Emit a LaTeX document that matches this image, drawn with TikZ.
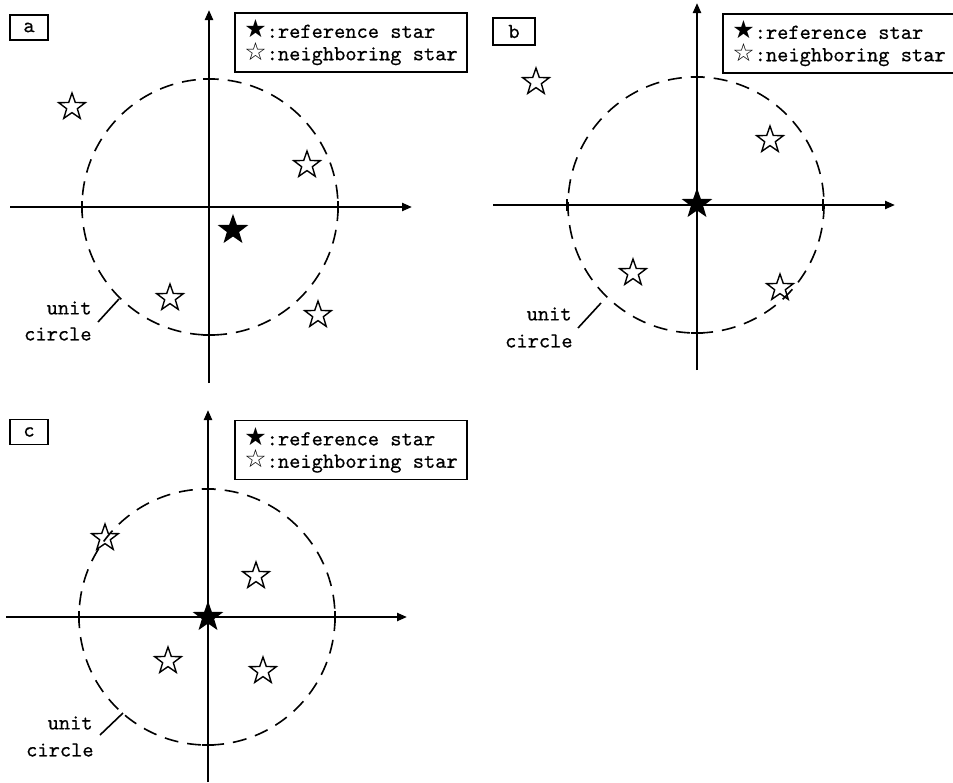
\documentclass[tikz,border=0pt]{standalone}
\usepackage{fontspec}
\newfontfamily\symfont{DejaVu Sans}
\newfontfamily\mymono[FakeBold=0.5]{lmmono10-regular.otf}
\usetikzlibrary{shapes.geometric,arrows.meta}
\tikzset{
 axis/.style={line width=1.1pt,-{Triangle[length=5pt,width=4pt]}},
 ucirc/.style={line width=0.8pt,dash pattern=on 7pt off 4.5pt},
 tickmark/.style={line width=0.8pt},
 nstar/.style={star,star points=5,star point ratio=2.5,draw,line width=0.7pt,minimum size=14pt,inner sep=0pt},
 rstar/.style={nstar,fill=black},
 mono/.style={font=\mymono\fontsize{10.7}{11.2}\selectfont},
 lab/.style={draw,line width=0.8pt,mono,minimum width=19pt,minimum height=12.5pt,inner sep=0pt},
 legend/.style={draw,line width=0.8pt,mono,align=left,inner sep=0pt,minimum width=116pt,minimum height=29.5pt},
 txt/.style={mono,inner sep=0pt},
 leader/.style={line width=0.8pt}
}
\newcommand{\legtext}{{\symfont\fontsize{12.5}{11}\selectfont ★}:reference star\\{\symfont\fontsize{12.5}{11}\selectfont ☆}:neighboring star}
\begin{document}
\begin{tikzpicture}[x=0.5pt,y=-0.5pt]
\useasboundingbox (0,0) rectangle (953,782);
\clip (0,0) rectangle (953,782);
% ---------------- panel a
\coordinate (aC) at (210,207);
\coordinate (aW) at (10,207); \coordinate (aE) at (412,207);
\coordinate (aS) at (209,383); \coordinate (aN) at (209,10);
\draw[ucirc] (aC) circle[radius=128];
\draw[axis] (aW) -- (aE);
\draw[axis] (aS) -- (aN);
\coordinate (aT1) at (82,201); \coordinate (aT2) at (82,213);
\coordinate (aT3) at (338,201); \coordinate (aT4) at (338,213);
\coordinate (aT5) at (203,79); \coordinate (aT6) at (215,79);
\coordinate (aT7) at (203,335); \coordinate (aT8) at (215,335);
\draw[tickmark] (aT1) -- (aT2) (aT3) -- (aT4) (aT5) -- (aT6) (aT7) -- (aT8);
\node[lab] (alab) at (29,27.5) {a};
\node[legend] (aleg) at (351,42.5) {\legtext};
\node[nstar] (as1) at (72,107) {};
\node[nstar] (as2) at (307,165) {};
\node[rstar] (aref) at (233,230) {};
\node[nstar] (as3) at (170,298) {};
\node[nstar] (as4) at (318,315) {};
\node[txt,anchor=east] (aunit) at (92,308) {unit};
\node[txt,anchor=east] (acirc) at (92,334) {circle};
\coordinate (aL1) at (98,322); \coordinate (aL2) at (119,299);
\draw[leader] (aL1) -- (aL2);
% ---------------- panel b
\coordinate (bC) at (696,205);
\coordinate (bW) at (493,205); \coordinate (bE) at (895,205);
\coordinate (bS) at (697,370); \coordinate (bN) at (697,3);
\draw[ucirc] (bC) circle[radius=128];
\draw[axis] (bW) -- (bE);
\draw[axis] (bS) -- (bN);
\coordinate (bT1) at (567,199); \coordinate (bT2) at (567,211);
\coordinate (bT3) at (823,199); \coordinate (bT4) at (823,211);
\coordinate (bT5) at (691,77); \coordinate (bT6) at (703,77);
\coordinate (bT7) at (691,333); \coordinate (bT8) at (703,333);
\draw[tickmark] (bT1) -- (bT2) (bT3) -- (bT4) (bT5) -- (bT6) (bT7) -- (bT8);
\node[lab,minimum width=21pt,minimum height=13.5pt] (blab) at (514,31.5) {b};
\node[legend] (bleg) at (839,43.5) {\legtext};
\node[nstar] (bs1) at (536,82) {};
\node[nstar] (bs2) at (770,140) {};
\node[nstar] (bs3) at (633,273) {};
\node[nstar] (bs4) at (780,288) {};
\node[rstar] (bref) at (697,204) {};
\node[txt,anchor=east] (bunit) at (572,314) {unit};
\node[txt,anchor=east] (bcirc) at (573,341) {circle};
\coordinate (bL1) at (578,328); \coordinate (bL2) at (601,303);
\draw[leader] (bL1) -- (bL2);
% ---------------- panel c
\coordinate (cC) at (207,617);
\coordinate (cW) at (6,617); \coordinate (cE) at (407,617);
\coordinate (cS) at (208,782); \coordinate (cN) at (208,410);
\draw[ucirc] (cC) circle[radius=128];
\draw[axis] (cW) -- (cE);
\draw[axis] (cS) -- (cN);
\coordinate (cT1) at (79,611); \coordinate (cT2) at (79,623);
\coordinate (cT3) at (335,611); \coordinate (cT4) at (335,623);
\coordinate (cT5) at (202,489); \coordinate (cT6) at (214,489);
\coordinate (cT7) at (202,745); \coordinate (cT8) at (214,745);
\draw[tickmark] (cT1) -- (cT2) (cT3) -- (cT4) (cT5) -- (cT6) (cT7) -- (cT8);
\node[lab] (clab) at (29,432) {c};
\node[legend] (cleg) at (351,450) {\legtext};
\node[nstar] (cs1) at (105,538) {};
\node[nstar] (cs2) at (256,576) {};
\node[nstar] (cs3) at (168,661) {};
\node[nstar] (cs4) at (263,671) {};
\node[rstar] (cref) at (208,617) {};
\node[txt,anchor=east] (cunit) at (93,723) {unit};
\node[txt,anchor=east] (ccirc) at (94,750) {circle};
\coordinate (cL1) at (100,735); \coordinate (cL2) at (123,713);
\draw[leader] (cL1) -- (cL2);
\end{tikzpicture}
\end{document}
